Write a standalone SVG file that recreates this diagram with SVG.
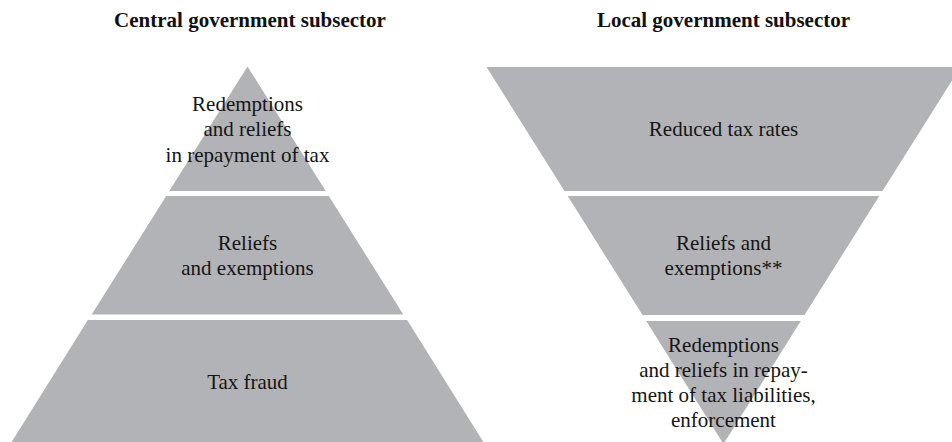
<svg xmlns="http://www.w3.org/2000/svg" width="952" height="442" viewBox="0 0 952 442">
<style>
.l{fill:#b2b3b6}
</style>
<rect width="952" height="442" fill="#fff"/>
<g id="titles" font-family="Liberation Serif, Times New Roman, serif" font-size="21" font-weight="bold" fill="#111" text-anchor="middle">
<text x="250" y="27">Central government subsector</text>
<text x="723.5" y="27">Local government subsector</text>
</g>
<g id="central-1">
<polygon class="l" points="247.5,66.5 325.7,191 169.3,191"/>
<g font-family="Liberation Serif, Times New Roman, serif" font-size="21" fill="#151515" text-anchor="middle">
<text x="247.5" y="111">Redemptions</text>
<text x="247.5" y="136">and reliefs</text>
<text x="247.5" y="161.5">in repayment of tax</text>
</g>
</g>
<g id="central-2">
<polygon class="l" points="166.2,196 328.8,196 403.3,314.5 91.7,314.5"/>
<g font-family="Liberation Serif, Times New Roman, serif" font-size="21" fill="#151515" text-anchor="middle">
<text x="247.5" y="250">Reliefs</text>
<text x="247.5" y="275">and exemptions</text>
</g>
</g>
<g id="central-3">
<polygon class="l" points="87.9,320 407.1,320 484,443 11,443"/>
<g font-family="Liberation Serif, Times New Roman, serif" font-size="21" fill="#151515" text-anchor="middle">
<text x="247.5" y="389">Tax fraud</text>
</g>
</g>
<g id="local-1">
<polygon class="l" points="486.5,67 960.5,67 882.5,191 564.5,191"/>
<g font-family="Liberation Serif, Times New Roman, serif" font-size="21" fill="#151515" text-anchor="middle">
<text x="723.5" y="136">Reduced tax rates</text>
</g>
</g>
<g id="local-2">
<polygon class="l" points="567.7,196 879.3,196 804.5,315 642.5,315"/>
<g font-family="Liberation Serif, Times New Roman, serif" font-size="21" fill="#151515" text-anchor="middle">
<text x="723.5" y="250">Reliefs and</text>
<text x="723.5" y="275">exemptions**</text>
</g>
</g>
<g id="local-3">
<polygon class="l" points="646.2,321 800.8,321 723.5,444"/>
<g font-family="Liberation Serif, Times New Roman, serif" font-size="21" fill="#151515" text-anchor="middle">
<text x="723.5" y="351.5">Redemptions</text>
<text x="723.5" y="376.5">and reliefs in repay-</text>
<text x="723.5" y="401.5">ment of tax liabilities,</text>
<text x="723.5" y="426.5">enforcement</text>
</g>
</g>
<g id="connectors"/>
</svg>
